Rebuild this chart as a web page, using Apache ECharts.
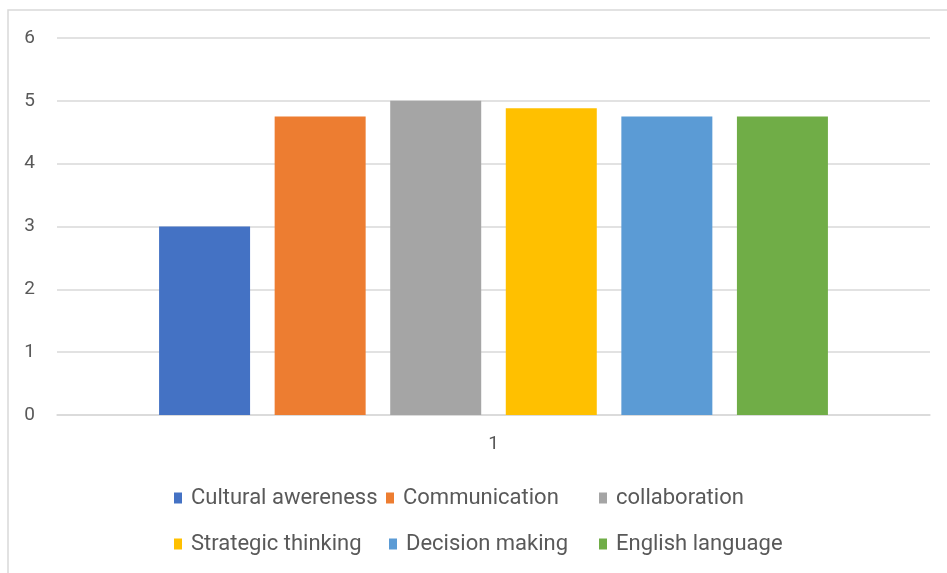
<!DOCTYPE html>
<html><head><meta charset="utf-8">
<script src="https://cdn.jsdelivr.net/npm/echarts@6/dist/echarts.min.js"></script>
<style>html,body{margin:0;padding:0;background:#fff}#c{width:947px;height:573px}</style>
</head><body><div id="c"></div>
<script>
var categories = ['1'];
var seriesNames = ['Cultural awereness','Communication','collaboration','Strategic thinking','Decision making','English language'];
var seriesValues = [3, 4.75, 5, 4.88, 4.75, 4.75];
var seriesColors = ['#4472C4','#ED7D31','#A5A5A5','#FFC000','#5B9BD5','#70AD47'];
var yTicks = [0,1,2,3,4,5,6];

var chart = echarts.init(document.getElementById('c'));
var font = 'Roboto';
var legendPos = [[174,487],[386,487],[599,487],[174,533],[389,533],[599,533]];
var legends = seriesNames.map(function(n,i){
  return {data:[n], left:legendPos[i][0], top:legendPos[i][1], itemWidth:8, itemHeight:11, itemGap:5, padding:0,
    icon:'rect', selectedMode:false, textStyle:{color:'#595959', fontSize:22, lineHeight:22, fontFamily:font, padding:[0,0,0,4]}};
});
chart.setOption({
  animation:false,
  graphic:[{type:'polyline', shape:{points:[[8,573],[8,10],[947,10]]}, style:{stroke:'#d9d9d9', lineWidth:1.5, fill:null}}],
  legend: legends,
  grid:{left:57, right:17, top:38, height:377, containLabel:false},
  xAxis:{type:'category', data:categories,
    axisLine:{lineStyle:{color:'#d9d9d9', width:1.5}}, axisTick:{show:false},
    axisLabel:{color:'#595959', fontSize:19, fontFamily:font, margin:20}},
  yAxis:{type:'value', min:0, max:6, interval:1,
    axisLabel:{color:'#595959', fontSize:19, fontFamily:font, margin:22, formatter:function(v){return yTicks.indexOf(v)>=0?String(v):'';}},
    splitLine:{lineStyle:{color:'#d9d9d9', width:1.5}}, axisLine:{show:false}, axisTick:{show:false}},
  series: seriesNames.map(function(n,i){
    return {name:n, type:'bar', data:[seriesValues[i]], barWidth:91, barGap:'27%',
      itemStyle:{color:seriesColors[i]}};
  })
});
</script></body></html>
